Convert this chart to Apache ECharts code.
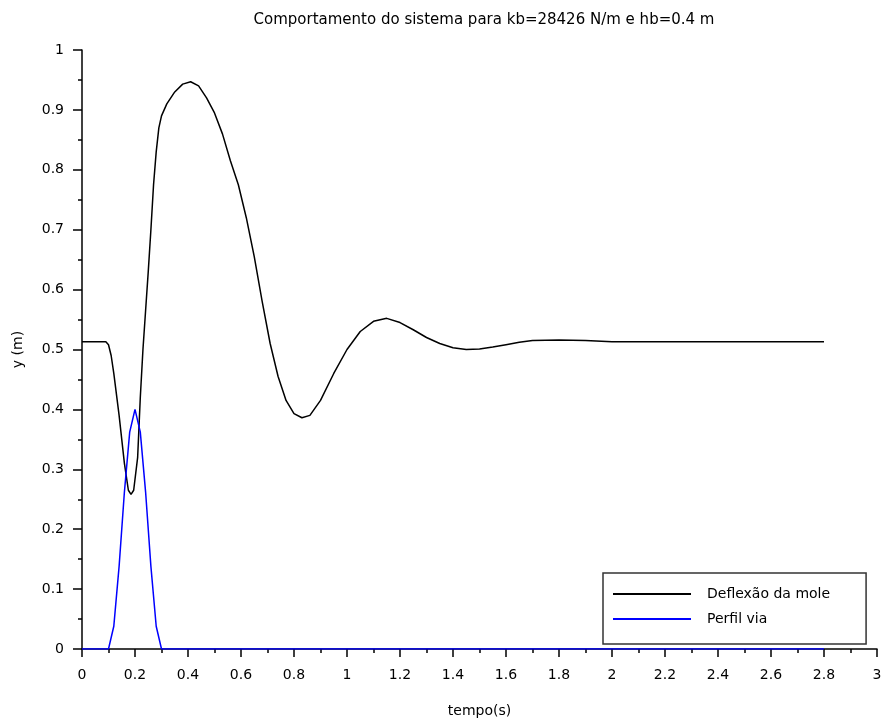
<!DOCTYPE html>
<html>
<head>
<meta charset="utf-8">
<script src="https://cdn.jsdelivr.net/npm/echarts@6/dist/echarts.min.js"></script>
<style>
  html, body { margin: 0; padding: 0; background: #fff; }
  #chart { width: 882px; height: 720px; }
</style>
</head>
<body>
<div id="chart"></div>
<script>
// values
const deflexaoT = [0, 0.09, 0.1, 0.11, 0.12, 0.14, 0.16, 0.175, 0.185, 0.195, 0.21, 0.22, 0.23, 0.24, 0.25, 0.26, 0.27, 0.28, 0.29, 0.3,
  0.32, 0.35, 0.38, 0.41, 0.44, 0.47, 0.5, 0.53, 0.56, 0.59, 0.62, 0.65, 0.68, 0.71, 0.74, 0.77, 0.8, 0.83, 0.86, 0.9, 0.95,
  1.0, 1.05, 1.1, 1.15, 1.2, 1.25, 1.3, 1.35, 1.4, 1.45, 1.5, 1.55, 1.6, 1.65, 1.7, 1.8, 1.9, 2.0, 2.8]
const deflexaoY = [0.513, 0.513, 0.508, 0.49, 0.46, 0.39, 0.31, 0.265, 0.258, 0.265, 0.32, 0.42, 0.5, 0.565, 0.63, 0.7, 0.775, 0.83, 0.87, 0.89,
  0.91, 0.93, 0.943, 0.947, 0.94, 0.92, 0.895, 0.86, 0.815, 0.775, 0.72, 0.655, 0.58, 0.51, 0.455, 0.415, 0.393, 0.386, 0.39, 0.415, 0.46,
  0.5, 0.53, 0.547, 0.552, 0.545, 0.533, 0.52, 0.51, 0.503, 0.5, 0.501, 0.504, 0.508, 0.512, 0.515, 0.516, 0.515, 0.513, 0.513]

const perfilT = [0, 0.1, 0.12, 0.14, 0.16, 0.18, 0.2, 0.22, 0.24, 0.26, 0.28, 0.3, 2.8]
const perfilY = [0, 0, 0.038, 0.138, 0.262, 0.362, 0.4, 0.362, 0.262, 0.138, 0.038, 0, 0]

const xTicks = { min: 0, max: 3, interval: 0.2 }
const yTicks = { min: 0, max: 1, interval: 0.1 }

const chart = echarts.init(document.getElementById('chart'))

const font = { color: '#000', fontSize: 14, fontFamily: 'DejaVu Sans' }

const axisCommon = {
  axisLine: { lineStyle: { color: '#000', width: 1.5 } },
  minorTick: { show: true, splitNumber: 2, length: 4, lineStyle: { color: '#000', width: 1.5 } },
  splitLine: { show: false },
  nameTextStyle: font,
}

chart.setOption({
  animation: false,
  backgroundColor: '#fff',
  title: {
    text: 'Comportamento do sistema para kb=28426 N/m e hb=0.4 m',
    left: 479,
    textAlign: 'center',
    top: 8,
    textStyle: { ...font, fontSize: 15, fontWeight: 'normal' },
  },
  grid: { left: 82, right: 5, top: 50, bottom: 71, outerBoundsMode: 'none' },
  legend: {
    orient: 'vertical',
    left: 603,
    top: 573,
    padding: [14, 36, 18, 9],
    itemGap: 11,
    itemWidth: 78,
    itemHeight: 14,
    borderColor: '#333',
    borderWidth: 1.5,
    backgroundColor: '#fff',
    itemStyle: { opacity: 0 },
    textStyle: { ...font, padding: [0, 0, 0, 11] },
    data: ['Deflexão da mole', 'Perfil via'],
  },
  xAxis: {
    ...axisCommon,
    type: 'value',
    ...xTicks,
    name: 'tempo(s)',
    nameLocation: 'middle',
    nameGap: 55,
    axisTick: { length: 8, lineStyle: { color: '#000', width: 1.5 } },
    axisLabel: { ...font, margin: 19 },
  },
  yAxis: {
    ...axisCommon,
    type: 'value',
    ...yTicks,
    name: 'y (m)',
    nameLocation: 'middle',
    nameGap: 57,
    axisTick: { length: 9, lineStyle: { color: '#000', width: 1.5 } },
    axisLabel: { ...font, margin: 18 },
  },
  series: [
    {
      name: 'Deflexão da mole',
      type: 'line',
      symbol: 'none',
      data: deflexaoT.map((t, i) => [t, deflexaoY[i]]),
      lineStyle: { color: '#000', width: 1.5 },
      itemStyle: { color: '#000' },
      z: 3,
    },
    {
      name: 'Perfil via',
      type: 'line',
      symbol: 'none',
      data: perfilT.map((t, i) => [t, perfilY[i]]),
      lineStyle: { color: '#0000ff', width: 1.5 },
      itemStyle: { color: '#0000ff' },
      z: 4,
    },
  ],
})
</script>
</body>
</html>
